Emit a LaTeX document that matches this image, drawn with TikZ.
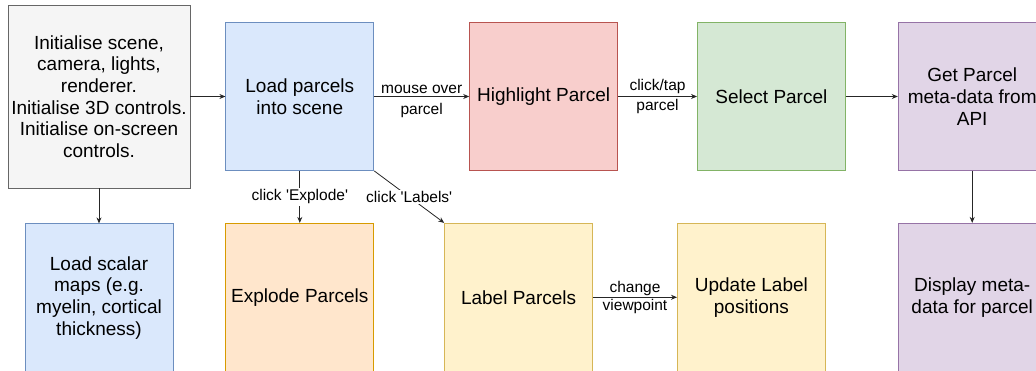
\documentclass[tikz,border=0pt]{standalone}
\usepackage{fontspec}
\setmainfont{Liberation Sans}
\usepackage{tikz}
\usetikzlibrary{arrows.meta, positioning}
\definecolor{inifill}{HTML}{F5F5F5}
\definecolor{inidraw}{HTML}{666666}
\definecolor{ldfill}{HTML}{DAE8FC}
\definecolor{lddraw}{HTML}{6C8EBF}
\definecolor{hlfill}{HTML}{F8CECC}
\definecolor{hldraw}{HTML}{B85450}
\definecolor{selfill}{HTML}{D5E8D4}
\definecolor{seldraw}{HTML}{82B366}
\definecolor{apifill}{HTML}{E1D5E7}
\definecolor{apidraw}{HTML}{9673A6}
\definecolor{expfill}{HTML}{FFE6CC}
\definecolor{expdraw}{HTML}{D79B00}
\definecolor{labfill}{HTML}{FFF2CC}
\definecolor{labdraw}{HTML}{D6B656}
\tikzset{
  blk/.style={rectangle, line width=0.8pt, align=center, font=\fontsize{19}{21.7}\selectfont, inner sep=3pt, minimum width=148pt, minimum height=148pt},
  ini/.style={blk, draw=inidraw, fill=inifill, minimum width=182pt, minimum height=183pt},
  ld/.style={blk, draw=lddraw, fill=ldfill},
  hl/.style={blk, draw=hldraw, fill=hlfill},
  sel/.style={blk, draw=seldraw, fill=selfill},
  api/.style={blk, draw=apidraw, fill=apifill},
  expl/.style={blk, draw=expdraw, fill=expfill},
  lbl/.style={blk, draw=labdraw, fill=labfill},
  lab/.style={font=\fontsize{15.5}{18}\selectfont, inner sep=1.5pt},
  arr/.style={-{Stealth[length=6pt, width=5pt]}, line width=0.8pt, draw=black!85},
}
\begin{document}
\begin{tikzpicture}
  \useasboundingbox (0,0) rectangle (1036pt,-371pt);
  % top row
  \node[ini] (init) at (99pt,-96.5pt) {Initialise scene,\\camera, lights,\\renderer.\\Initialise 3D controls.\\Initialise on-screen\\controls.};
  \node[ld, right=35pt of init] (load) {Load parcels\\into scene};
  \node[hl, right=95pt of load] (high) {Highlight Parcel};
  \node[sel, right=79pt of high] (select) {Select Parcel};
  \node[api, right=52pt of select] (getapi) {Get Parcel\\meta-data from\\API};
  % bottom row
  \node[ld, below=35pt of init] (scalar) {Load scalar\\maps (e.g.\\myelin, cortical\\thickness)};
  \node[expl, below=52pt of load] (explode) {Explode Parcels};
  \node[lbl, right=70pt of explode] (labels) {Label Parcels};
  \node[lbl, right=84pt of labels] (update) {Update Label\\positions};
  \node[api, below=52pt of getapi] (display) {Display meta-\\data for parcel};

  \draw[arr] (init) -- (load);
  \draw[arr] (load) -- node[lab, above=1pt] {mouse over} node[lab, below=5pt] {parcel} (high);
  \draw[arr] (high) -- node[lab, above=1pt] {click/tap} node[lab, below=1pt] {parcel} (select);
  \draw[arr] (select) -- (getapi);
  \draw[arr] (init) -- (scalar);
  \draw[arr] (load) -- node[lab, fill=white] {click \textquotesingle Explode\textquotesingle} (explode);
  \draw[arr] (load.south east) -- node[lab, fill=white, pos=0.5] {click \textquotesingle Labels\textquotesingle} (labels.north west);
  \draw[arr] (labels) -- node[lab, above] {change} node[lab, below] {viewpoint} (update);
  \draw[arr] (getapi) -- (display);
\end{tikzpicture}
\end{document}
